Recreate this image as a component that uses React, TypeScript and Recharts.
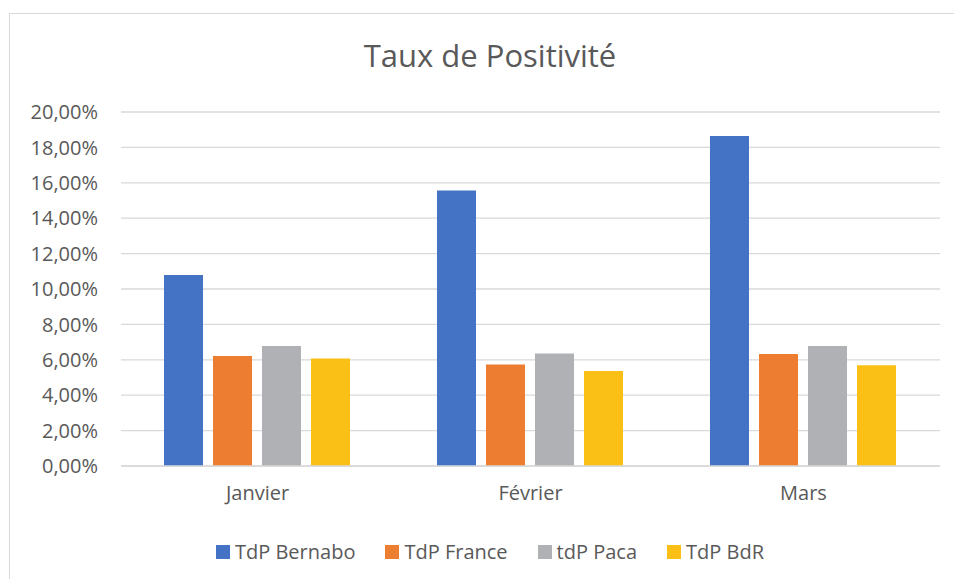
import React from 'react';
import { BarChart, Bar, XAxis, YAxis, CartesianGrid, Legend } from 'recharts';

const months = ['Janvier', 'Février', 'Mars'];
const tdpBernabo = [10.79, 15.56, 18.64];
const tdpFrance = [6.21, 5.73, 6.33];
const tdpPaca = [6.78, 6.35, 6.78];
const tdpBdR = [6.08, 5.37, 5.69];
const yTicks = [0, 2, 4, 6, 8, 10, 12, 14, 16, 18, 20];

const series = [
    { key: 'bernabo', name: 'TdP Bernabo', color: '#4472C4' },
    { key: 'france', name: 'TdP France', color: '#ED7D31' },
    { key: 'paca', name: 'tdP Paca', color: '#B0B1B4' },
    { key: 'bdr', name: 'TdP BdR', color: '#FBC015' }
];

const data = months.map((month, i) => ({
    month,
    bernabo: tdpBernabo[i],
    france: tdpFrance[i],
    paca: tdpPaca[i],
    bdr: tdpBdR[i]
}));

const FONT = '"Open Sans", sans-serif';
const TEXT = '#595959';

const formatPct = (v: number) => v.toFixed(2).replace('.', ',') + '%';

const renderLegend = () => (
    <div style={{ display: 'flex', justifyContent: 'center', fontFamily: FONT, fontSize: 20, color: TEXT }}>
        {series.map((s) => (
            <div key={s.key} style={{ display: 'flex', alignItems: 'center', margin: '0 15px' }}>
                <span style={{ width: 14, height: 14, background: s.color, marginRight: 5, display: 'inline-block' }} />
                <span>{s.name}</span>
            </div>
        ))}
    </div>
);

const App: React.FC = () => {
    return (
        <div style={{ position: 'absolute', left: 0, top: 0, width: 954, height: 579, overflow: 'hidden', background: '#fff' }}>
            <div style={{ position: 'absolute', left: 9, top: 13, width: 1000, height: 1000, border: '1px solid #d9d9d9' }} />
            <div style={{ position: 'absolute', left: 0, top: 34, width: 980, textAlign: 'center', fontFamily: FONT, fontSize: 31, lineHeight: 1.362, color: TEXT }}>
                Taux de Positivité
            </div>
            <BarChart
                width={954}
                height={579}
                data={data}
                margin={{ top: 112, right: 14, bottom: 73, left: 0 }}
                barCategoryGap={43}
                barGap={10}
                style={{ position: 'absolute', left: 0, top: 0 }}
            >
                <CartesianGrid vertical={false} stroke="#d9d9d9" strokeWidth={1.3} />
                <XAxis
                    dataKey="month"
                    height={40}
                    axisLine={{ stroke: '#d9d9d9', strokeWidth: 1.3 }}
                    tickLine={false}
                    tickSize={0}
                    tickMargin={20}
                    tick={{ fill: TEXT, fontSize: 20, fontFamily: FONT }}
                />
                <YAxis
                    width={121}
                    domain={[0, 20]}
                    ticks={yTicks}
                    interval={0}
                    axisLine={false}
                    tickLine={false}
                    tickSize={0}
                    tickMargin={23}
                    tickFormatter={formatPct}
                    tick={{ fill: TEXT, fontSize: 20, fontFamily: FONT }}
                />
                <Legend
                    layout="horizontal"
                    verticalAlign="middle"
                    align="center"
                    content={renderLegend}
                    wrapperStyle={{ top: 538, left: 0, width: 980 }}
                />
                {series.map((s) => (
                    <Bar key={s.key} dataKey={s.key} name={s.name} fill={s.color} isAnimationActive={false} />
                ))}
            </BarChart>
        </div>
    );
};

export default App;
